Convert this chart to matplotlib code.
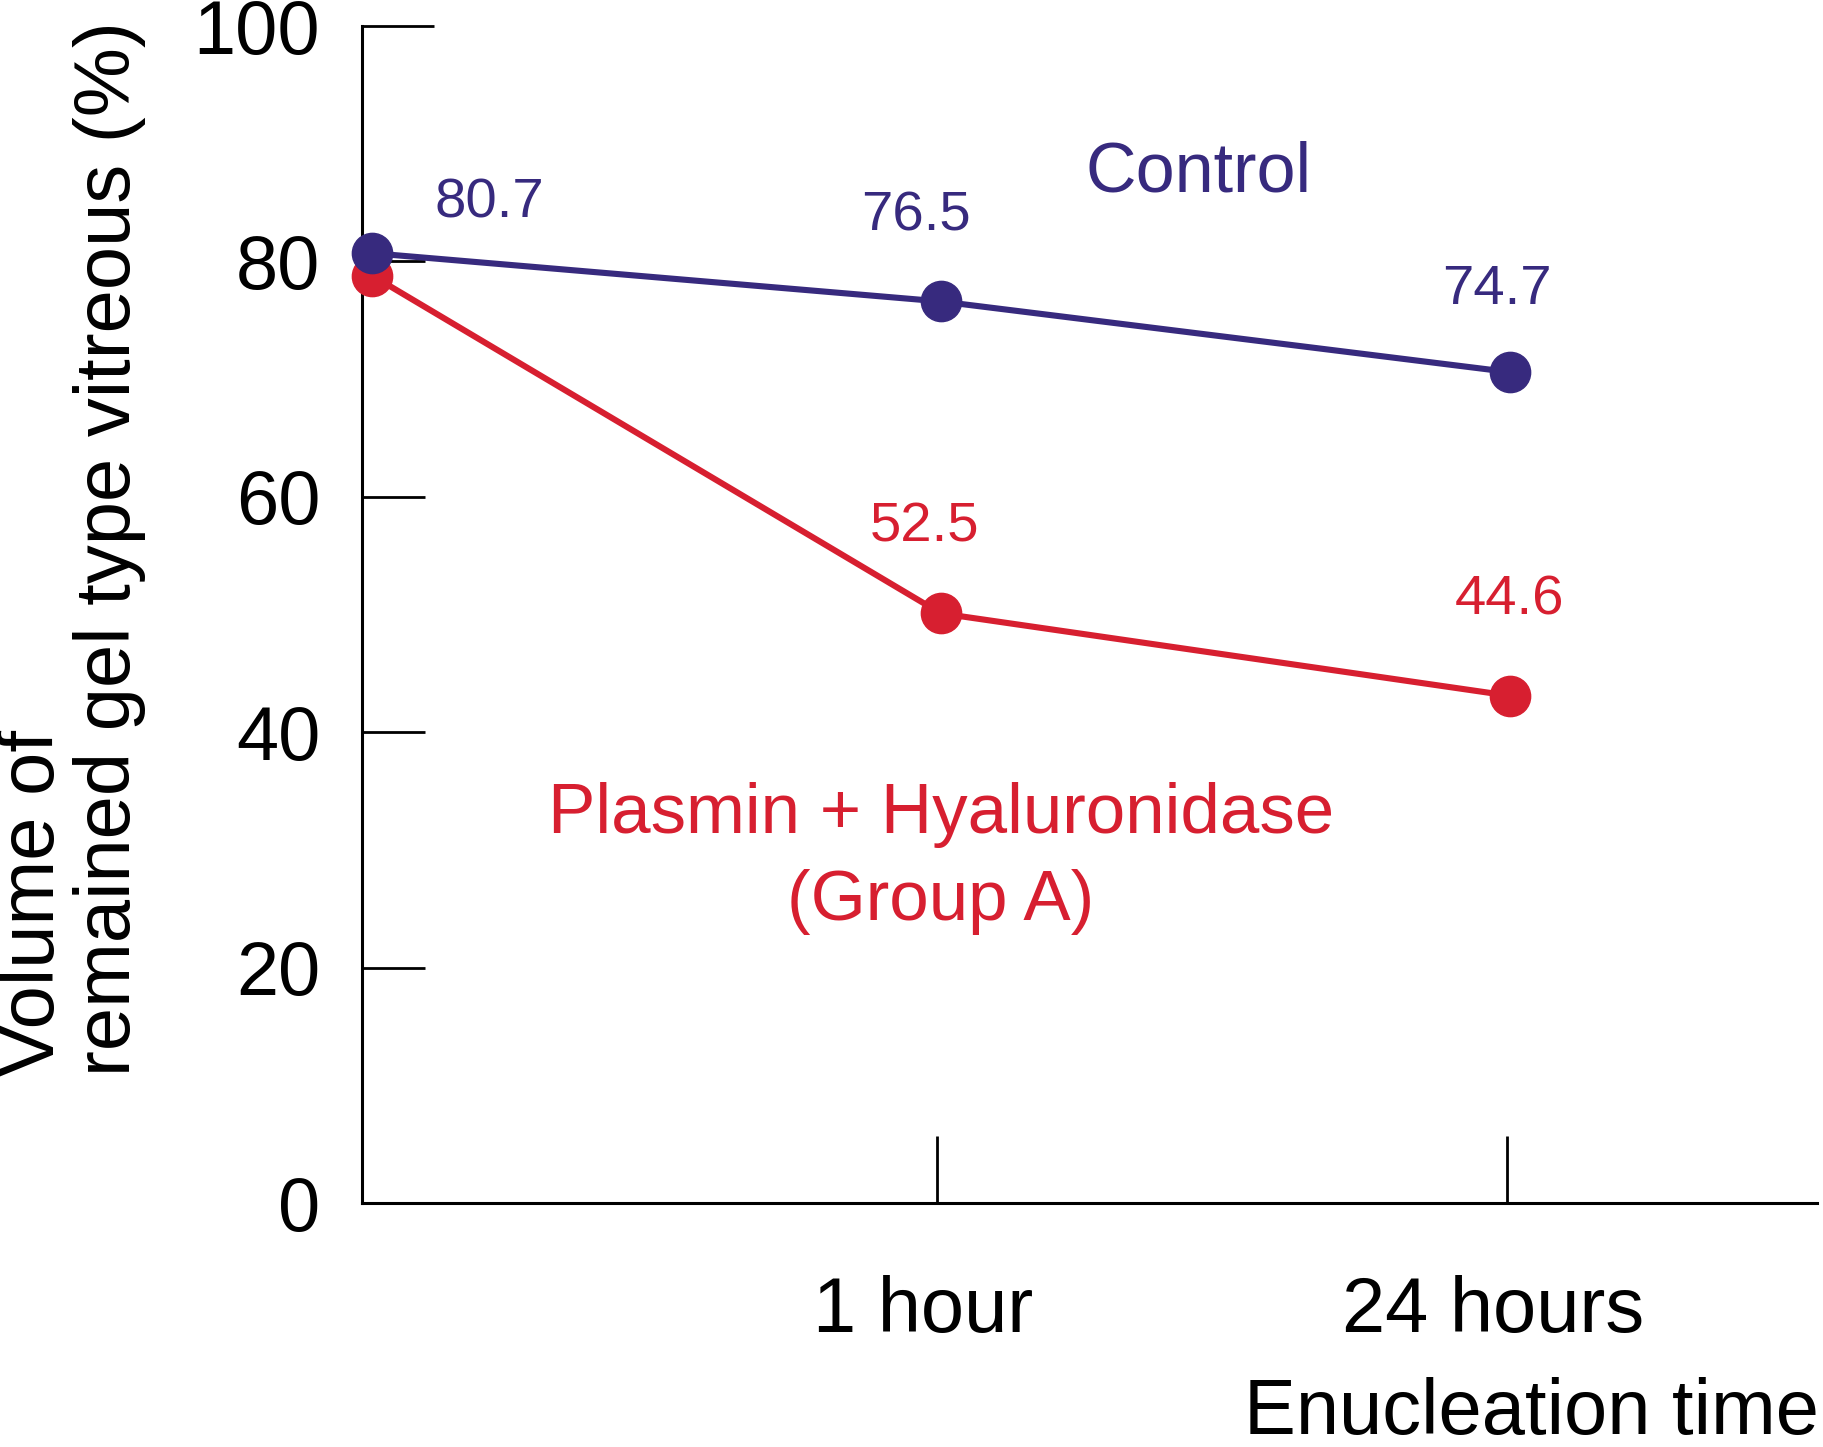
import numpy as np
import matplotlib.pyplot as plt
import matplotlib.transforms as mtransforms

plt.rcParams['font.family'] = ['Liberation Sans', 'DejaVu Sans']

# data
times = [0, 1, 2]
time_labels = ['1 hour', '24 hours']
control = [80.7, 76.6, 70.6]
group_a = [78.8, 50.1, 43.1]
control_text = ['80.7', '76.5', '74.7']
group_a_text = ['', '52.5', '44.6']

blue = '#372a7e'
red = '#d71f30'

fig = plt.figure(figsize=(18.24, 14.47), dpi=100)
ax = fig.add_axes([0.1984, 0.1686, 0.7976, 0.8134])

ax.plot(times, control, '-o', color=blue, lw=4.4, ms=29, clip_on=False, zorder=4)
ax.plot(times, group_a, '-o', color=red, lw=4.4, ms=29, clip_on=False, zorder=3)

# value labels (positions in data units)
cpos = [(0.207, 84.9), (0.957, 83.8), (1.978, 77.6)]
rpos = [None, (0.971, 57.4), (2.0, 51.2)]
for s, p in zip(control_text, cpos):
    ax.text(p[0], p[1], s, color=blue, fontsize=40.5, ha='center', va='center')
for s, p in zip(group_a_text, rpos):
    if p:
        ax.text(p[0], p[1], s, color=red, fontsize=40.5, ha='center', va='center')

ax.text(1.454, 87.5, 'Control', color=blue, fontsize=50.5, ha='center', va='center')
ax.text(1.0, 33.0, 'Plasmin + Hyaluronidase', color=red, fontsize=51, ha='center', va='center')
ax.text(1.0, 25.6, '(Group A)', color=red, fontsize=51, ha='center', va='center')

ax.set_xlim(-0.018, 2.54)
ax.set_ylim(0, 100)
ax.set_xticks([0.994, 1.996])
ax.set_xticklabels(time_labels)
ax.set_yticks([0, 20, 40, 60, 80, 100])

for side in ['top', 'right']:
    ax.spines[side].set_visible(False)
for side in ['left', 'bottom']:
    ax.spines[side].set_linewidth(2.2)

ax.tick_params(axis='y', direction='in', length=45, width=2, labelsize=54.5, pad=30)
ax.tick_params(axis='x', direction='in', length=48, width=2, labelsize=56, pad=52)
ax.yaxis.get_major_ticks()[-1].tick1line.set_markersize(52)

shift = mtransforms.ScaledTranslation(-0.14, 0, fig.dpi_scale_trans)
for lab in ax.get_xticklabels():
    lab.set_transform(lab.get_transform() + shift)

fig.text(0.039, 0.2565, 'Volume of\nremained gel type vitreous (%)', rotation=90,
         fontsize=56, ha='center', va='bottom', multialignment='left', linespacing=1.05)
fig.text(0.997, 0.009, 'Enucleation time', fontsize=56, ha='right', va='baseline')

fig.savefig('out.png', dpi=100)
